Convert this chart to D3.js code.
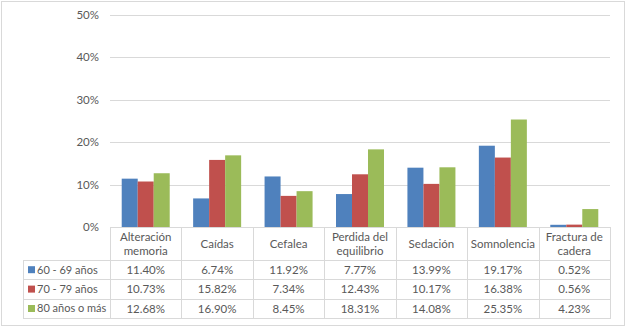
<!DOCTYPE html>
<html><head><meta charset="utf-8">
<script src="https://cdn.jsdelivr.net/npm/d3@7"></script>
<style>
html,body{margin:0;padding:0;background:#fff;}
svg text{font-family:"Lato","Open Sans",sans-serif;fill:#595959;}
</style></head>
<body><svg id="c" width="630" height="330"></svg>
<script>
const categories = [["Alteración","memoria"],["Caídas"],["Cefalea"],["Perdida del","equilibrio"],["Sedación"],["Somnolencia"],["Fractura de","cadera"]];
const seriesNames = ["60 - 69 años","70 - 79 años","80 años o más"];
const s60 = [11.40, 6.74, 11.92, 7.77, 13.99, 19.17, 0.52];
const s70 = [10.73, 15.82, 7.34, 12.43, 10.17, 16.38, 0.56];
const s80 = [12.68, 16.90, 8.45, 18.31, 14.08, 25.35, 4.23];
const colors = ["#4F81BD","#C0504D","#9BBB59"];
const yTicks = [0,10,20,30,40,50];

(function(){
const FS=11.5;
const series = [s60,s70,s80];
const svg = d3.select("#c");
svg.append("rect").attr("x",1.5).attr("y",1.5).attr("width",623).attr("height",324)
  .attr("fill","#fff").attr("stroke","#d9d9d9");

const pLeft=110,pRight=610,pTop=15,pBottom=227;
const x0 = d3.scaleBand().domain(d3.range(categories.length)).range([pLeft,pRight]).padding(0);
const x1 = d3.scaleBand().domain(d3.range(series.length)).range([0,x0.bandwidth()]).paddingInner(0).paddingOuter(0.732);
const y = d3.scaleLinear().domain([0,50]).range([pBottom,pTop]);

svg.append("g").selectAll("line").data(yTicks).join("line")
  .attr("x1",pLeft).attr("x2",pRight)
  .attr("y1",d=>Math.round(y(d))+0.5).attr("y2",d=>Math.round(y(d))+0.5)
  .attr("stroke","#d9d9d9").attr("stroke-width",1);
svg.append("g").selectAll("text").data(yTicks).join("text")
  .attr("x",99).attr("y",d=>y(d)).attr("dy","0.35em").attr("text-anchor","end")
  .attr("font-size",FS).text(d=>d+"%");

series.forEach((s,si)=>{
  svg.append("g").selectAll("rect").data(s).join("rect")
    .attr("x",(d,i)=>x0(i)+x1(si)).attr("width",x1.bandwidth())
    .attr("y",d=>y(d)).attr("height",d=>y(0)-y(d)).attr("fill",colors[si]);
});

const hdrBottom=260, rowH=19.4;
const rowY = i=>hdrBottom+i*rowH;
const tableBottom=rowY(3);
const legLeft=23;
const g=svg.append("g").attr("stroke","#d9d9d9").attr("stroke-width",1);
g.append("line").attr("x1",pLeft).attr("x2",pRight).attr("y1",pBottom+0.5).attr("y2",pBottom+0.5);
[0,1,2,3].forEach(i=>{
  g.append("line").attr("x1",legLeft).attr("x2",pRight).attr("y1",Math.round(rowY(i))+0.5).attr("y2",Math.round(rowY(i))+0.5);
});
const bounds = d3.range(categories.length+1).map(i=>i<categories.length?x0(i):pRight);
bounds.forEach(b=>{
  g.append("line").attr("x1",Math.round(b)+0.5).attr("x2",Math.round(b)+0.5).attr("y1",pBottom).attr("y2",Math.round(tableBottom)+1);
});
g.append("line").attr("x1",legLeft+0.5).attr("x2",legLeft+0.5).attr("y1",hdrBottom).attr("y2",Math.round(tableBottom)+1);

categories.forEach((c,i)=>{
  const cx=x0(i)+x0.bandwidth()/2;
  const cy=(pBottom+hdrBottom)/2;
  const t=svg.append("text").attr("text-anchor","middle").attr("font-size",FS);
  c.forEach((line,li)=>{
    t.append("tspan").attr("x",cx).attr("y",cy+(li-(c.length-1)/2)*14).attr("dy","0.35em").text(line);
  });
});
series.forEach((s,si)=>{
  const cy=rowY(si)+rowH/2;
  svg.append("rect").attr("x",28).attr("y",cy-3.5).attr("width",7).attr("height",7).attr("fill",colors[si]);
  svg.append("text").attr("x",37).attr("y",cy).attr("dy","0.35em").attr("font-size",11).text(seriesNames[si]);
  svg.append("g").selectAll("text").data(s).join("text")
    .attr("x",(d,i)=>x0(i)+x0.bandwidth()/2).attr("y",cy).attr("dy","0.35em")
    .attr("text-anchor","middle").attr("font-size",FS).text(d=>d.toFixed(2)+"%");
});
})();
</script></body></html>
